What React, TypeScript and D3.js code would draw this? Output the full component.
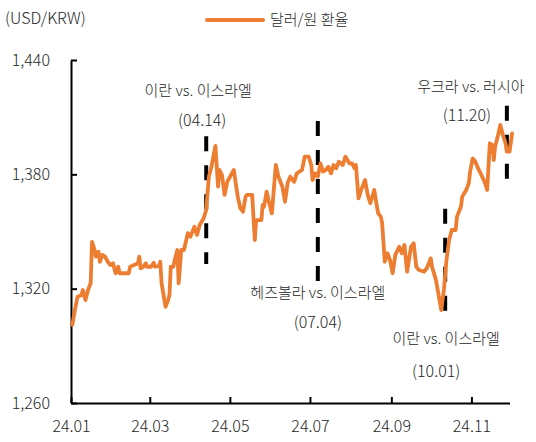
import { useEffect, useRef } from "react";
import * as d3 from "d3";

// 달러/원 환율
const dates = [
  "2024-01-02", "2024-01-04", "2024-01-06", "2024-01-09", "2024-01-10", "2024-01-12", "2024-01-14", "2024-01-16",
  "2024-01-17", "2024-01-19", "2024-01-20", "2024-01-22", "2024-01-23", "2024-01-25", "2024-01-27", "2024-01-29",
  "2024-01-31", "2024-02-02", "2024-02-04", "2024-02-06", "2024-02-07", "2024-02-08", "2024-02-14", "2024-02-15",
  "2024-02-18", "2024-02-21", "2024-02-22", "2024-02-23", "2024-02-25", "2024-02-27", "2024-02-28", "2024-03-02",
  "2024-03-04", "2024-03-05", "2024-03-08", "2024-03-09", "2024-03-10", "2024-03-13", "2024-03-15", "2024-03-16",
  "2024-03-17", "2024-03-19", "2024-03-20", "2024-03-22", "2024-03-23", "2024-03-25", "2024-03-27", "2024-03-30",
  "2024-04-01", "2024-04-04", "2024-04-06", "2024-04-08", "2024-04-11", "2024-04-13", "2024-04-15", "2024-04-17",
  "2024-04-20", "2024-04-22", "2024-04-23", "2024-04-25", "2024-04-27", "2024-04-29", "2024-05-04", "2024-05-07",
  "2024-05-09", "2024-05-11", "2024-05-13", "2024-05-14", "2024-05-18", "2024-05-20", "2024-05-21", "2024-05-25",
  "2024-05-26", "2024-05-27", "2024-05-29", "2024-05-31", "2024-06-02", "2024-06-05", "2024-06-07", "2024-06-10",
  "2024-06-12", "2024-06-14", "2024-06-16", "2024-06-19", "2024-06-21", "2024-06-23", "2024-06-25", "2024-06-27",
  "2024-06-30", "2024-07-02", "2024-07-03", "2024-07-05", "2024-07-07", "2024-07-09", "2024-07-11", "2024-07-13",
  "2024-07-15", "2024-07-17", "2024-07-19", "2024-07-21", "2024-07-23", "2024-07-26", "2024-07-28", "2024-07-31",
  "2024-08-02", "2024-08-04", "2024-08-05", "2024-08-07", "2024-08-09", "2024-08-12", "2024-08-14", "2024-08-16",
  "2024-08-19", "2024-08-21", "2024-08-22", "2024-08-24", "2024-08-25", "2024-08-27", "2024-08-29", "2024-08-31",
  "2024-09-02", "2024-09-04", "2024-09-07", "2024-09-09", "2024-09-11", "2024-09-13", "2024-09-16", "2024-09-18",
  "2024-09-20", "2024-09-22", "2024-09-26", "2024-09-28", "2024-10-01", "2024-10-02", "2024-10-05", "2024-10-09",
  "2024-10-11", "2024-10-13", "2024-10-15", "2024-10-17", "2024-10-20", "2024-10-21", "2024-10-24", "2024-10-25",
  "2024-10-28", "2024-10-30", "2024-10-31", "2024-11-02", "2024-11-04", "2024-11-06", "2024-11-08", "2024-11-11",
  "2024-11-13", "2024-11-15", "2024-11-17", "2024-11-18", "2024-11-19", "2024-11-21", "2024-11-23", "2024-11-25",
  "2024-11-27", "2024-11-28", "2024-11-30", "2024-12-02",
];

const usdKrw = [
  1301, 1308.8, 1315.8, 1316.7, 1319.3, 1314, 1319.3, 1323,
  1344.6, 1340.3, 1336.8, 1339.4, 1334.1, 1337.7, 1336.8, 1334.1,
  1332.4, 1333.3, 1328.1, 1331.5, 1328.1, 1328.1, 1328.1, 1331.5,
  1332.4, 1333.3, 1336.8, 1330.7, 1331.5, 1333.3, 1331.5, 1331.5,
  1333.6, 1331.5, 1331.9, 1334.1, 1322.8, 1310.5, 1314, 1316.7,
  1331.5, 1331.5, 1335, 1340.3, 1322.8, 1340.3, 1340.3, 1349.1,
  1347.3, 1352.5, 1348.2, 1353.4, 1356.9, 1361.3, 1378.8, 1384,
  1394.9, 1373.5, 1382.3, 1379.6, 1369.2, 1376.1, 1382.3, 1368.3,
  1362.2, 1360.4, 1368.3, 1369.2, 1369.2, 1345.5, 1356, 1356,
  1363.9, 1363, 1370.9, 1364.8, 1359.5, 1384.9, 1378.8, 1373.5,
  1365.6, 1375.3, 1378.8, 1376.1, 1380.5, 1381.4, 1382.3, 1389.3,
  1389.3, 1384.9, 1377, 1380.5, 1378.8, 1385.8, 1381.4, 1382.3,
  1384, 1380.5, 1384.9, 1383.2, 1386.6, 1384.9, 1389.3, 1385.8,
  1385.8, 1383.2, 1384.9, 1367.4, 1371.8, 1377, 1369.2, 1364.8,
  1371.8, 1363, 1359.5, 1357.8, 1354.3, 1334.1, 1338.6, 1335,
  1328.1, 1337.7, 1342, 1338.6, 1342.9, 1328.9, 1342, 1343.8,
  1331.5, 1329.8, 1328.9, 1330.7, 1335.9, 1331.5, 1324.5, 1308.8,
  1319.3, 1335, 1345.5, 1350.8, 1350.8, 1357.8, 1363, 1368.3,
  1371.8, 1375.3, 1381.4, 1388.4, 1386.6, 1383.2, 1380.5, 1376.1,
  1371.8, 1396.3, 1395.4, 1387.5, 1394.5, 1399.7, 1405.9, 1400.6,
  1396.3, 1391.9, 1391.9, 1401.5,
];

const yTicks = [1260, 1320, 1380, 1440];

// 이벤트 (dashed markers)
const eventDates = ["2024-04-13", "2024-07-07", "2024-10-12", "2024-11-28"];
const eventTop = [1400, 1408, 1362, 1416];
const eventBottom = [1333, 1324, 1308, 1377];
const eventTitles = ["이란 vs. 이스라엘", "헤즈볼라 vs. 이스라엘", "이란 vs. 이스라엘", "우크라 vs. 러시아"];
const eventLabels = ["(04.14)", "(07.04)", "(10.01)", "(11.20)"];

const seriesName = "달러/원 환율";
const unitLabel = "(USD/KRW)";

const FONT = "'Noto Sans CJK KR', 'Noto Sans', sans-serif";
const ORANGE = "#ED7D31";
const TEXT = "#262626";

export default function App() {
  const svgRef = useRef<SVGSVGElement>(null);

  useEffect(() => {
    const svg = svgRef.current;
    if (!svg) return;
    d3.select(svg).selectAll("*").remove();

    const parse = d3.timeParse("%Y-%m-%d");
    const points = dates.map((d, i) => ({ date: parse(d) as Date, value: usdKrw[i] }));

    const x = d3
      .scaleTime()
      .domain([new Date(2024, 0, 1), new Date(2024, 10, 30)])
      .range([71, 509.5]);
    const y = d3.scaleLinear().domain([1260, 1440]).range([403, 60]);

    const root = d3.select(svg);

    // Y axis (ticks inward)
    const yAxis = root
      .append("g")
      .attr("transform", "translate(71,0)")
      .call(
        d3
          .axisLeft(y)
          .tickValues(yTicks)
          .tickSizeInner(-6)
          .tickSizeOuter(0)
          .tickPadding(21)
          .tickFormat((d) => d3.format(",")(d as number))
      );
    yAxis.select(".domain").attr("stroke", "#000").attr("stroke-width", 2);
    yAxis.selectAll(".tick line").attr("stroke", "#000").attr("stroke-width", 2);
    yAxis
      .selectAll("text")
      .attr("font-family", FONT)
      .attr("font-size", 16)
      .attr("font-weight", 300)
      .attr("fill", TEXT);

    // X axis (ticks inward)
    const xAxis = root
      .append("g")
      .attr("transform", "translate(0,403)")
      .call(
        d3
          .axisBottom(x)
          .ticks(d3.timeMonth.every(2))
          .tickSizeInner(-6)
          .tickSizeOuter(0)
          .tickPadding(18)
          .tickFormat((d) => d3.timeFormat("%y.%m")(d as Date))
      );
    xAxis.select(".domain").attr("stroke", "#000").attr("stroke-width", 2);
    xAxis.selectAll(".tick line").attr("stroke", "#000").attr("stroke-width", 2);
    xAxis
      .selectAll("text")
      .attr("font-family", FONT)
      .attr("font-size", 16)
      .attr("font-weight", 300)
      .attr("fill", TEXT);

    // Event markers
    const layout = [
      { from: "top", tdx: -8, tdy: -47, ddx: -4, ddy: -17 },
      { from: "bottom", tdx: 0, tdy: 10, ddx: 0, ddy: 40 },
      { from: "bottom", tdx: 1, tdy: 26, ddx: -9, ddy: 58 },
      { from: "top", tdx: -36, tdy: -20, ddx: -40, ddy: 8 },
    ];
    eventDates.forEach((ed, i) => {
      const ex = x(parse(ed) as Date);
      const top = y(eventTop[i]);
      const bottom = y(eventBottom[i]);
      root
        .append("line")
        .attr("x1", ex)
        .attr("x2", ex)
        .attr("y1", top)
        .attr("y2", bottom)
        .attr("stroke", "#000")
        .attr("stroke-width", 4)
        .attr("stroke-dasharray", "15 14");
      const l = layout[i];
      const base = l.from === "top" ? top : bottom;
      root
        .append("text")
        .attr("x", ex + l.tdx)
        .attr("y", base + l.tdy)
        .attr("text-anchor", "middle")
        .attr("dominant-baseline", "central")
        .attr("font-family", FONT)
        .attr("font-size", 15)
        .attr("font-weight", 300)
        .attr("fill", TEXT)
        .text(eventTitles[i]);
      root
        .append("text")
        .attr("x", ex + l.ddx)
        .attr("y", base + l.ddy)
        .attr("text-anchor", "middle")
        .attr("dominant-baseline", "central")
        .attr("font-family", FONT)
        .attr("font-size", 16)
        .attr("font-weight", 300)
        .attr("fill", TEXT)
        .text(eventLabels[i]);
    });

    // Line
    const line = d3
      .line<{ date: Date; value: number }>()
      .x((d) => x(d.date))
      .y((d) => y(d.value));
    root
      .append("path")
      .datum(points)
      .attr("d", line)
      .attr("fill", "none")
      .attr("stroke", ORANGE)
      .attr("stroke-width", 3.8)
      .attr("stroke-linejoin", "round")
      .attr("stroke-linecap", "round");

    // Unit label
    root
      .append("text")
      .attr("x", 5)
      .attr("y", 17)
      .attr("dominant-baseline", "central")
      .attr("font-family", FONT)
      .attr("font-size", 16)
      .attr("font-weight", 300)
      .attr("fill", TEXT)
      .text(unitLabel);

    // Legend
    root
      .append("line")
      .attr("x1", 207)
      .attr("x2", 263)
      .attr("y1", 20)
      .attr("y2", 20)
      .attr("stroke", ORANGE)
      .attr("stroke-width", 4)
      .attr("stroke-linecap", "round");
    root
      .append("text")
      .attr("x", 270)
      .attr("y", 18)
      .attr("dominant-baseline", "central")
      .attr("font-family", FONT)
      .attr("font-size", 15)
      .attr("font-weight", 300)
      .attr("fill", TEXT)
      .text(seriesName);
  }, []);

  return (
    <svg
      ref={svgRef}
      width={536}
      height={442}
      style={{ position: "absolute", left: 0, top: 0, background: "#fff" }}
    />
  );
}
